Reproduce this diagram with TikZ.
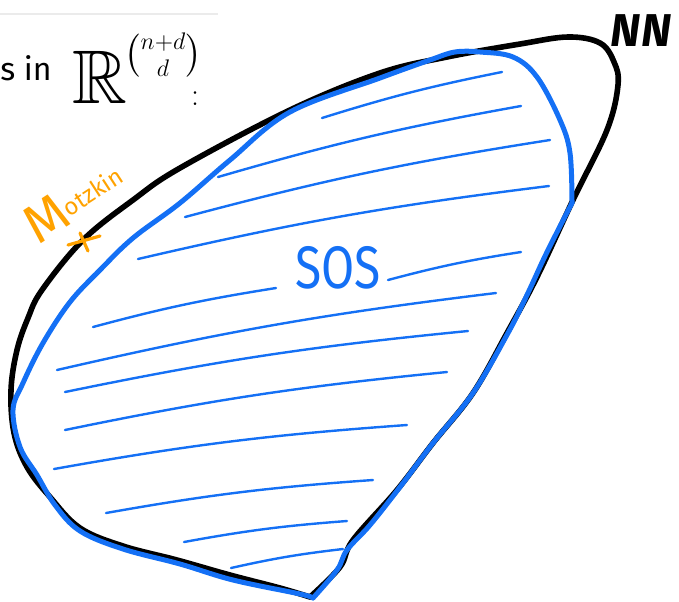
\documentclass[tikz,border=0pt]{standalone}
\usepackage{amsmath,amssymb}
\usepackage{fontspec}
\newfontfamily\handfont{Fira Sans}
\definecolor{sosblue}{RGB}{20,112,245}
\definecolor{motzorange}{RGB}{255,162,0}
\begin{document}
\begin{tikzpicture}[x=0.5pt,y=-0.5pt,
		nnline/.style={black,line width=2.8pt,line cap=round,line join=round},
		sosline/.style={sosblue,line width=2.5pt,line cap=round,line join=round},
		hatch/.style={sosblue,line width=1.2pt,line cap=round}]
			\useasboundingbox (0,0) rectangle (679,601);
			\draw[black!8,line width=1pt] (0,14)--(218,14); %top edge
			\node[anchor=base west,inner sep=0pt,font=\handfont\fontsize{16}{16}\selectfont] (intext) at (0,80) {s in};
			\node[anchor=base west,inner sep=0pt,font=\fontsize{38}{38}\selectfont] (realR) at (72,103) {$\mathbb{R}$};
			\node[inner sep=0pt,font=\fontsize{18}{18}\selectfont] (dimbinom) at (163,55) {$\binom{n+d}{d}$};
			\node[inner sep=0pt,font=\fontsize{16}{16}\selectfont] (colon) at (195,99) {:};
			%NN
			\draw[nnline] plot[smooth, tension=0.6] coordinates {(310,597) (280,588) (230,575) (177,560) (123,546) (80,528) (50,497) (27,467) (14,433) (11,390) (17,350) (28,318) (42,290) (83,240) (133,200) (180,168) (290,110) (380,73) (447,57) (520,44) (568,37) (600,43) (614,62) (618,85) (607,130) (573,200) (537,277) (507,333) (473,393) (433,443) (397,490) (353,540) (340,567) (310,597)};
			\node[font=\handfont\bfseries\itshape\fontsize{23}{23}\selectfont] (nnlabel) at (641,31) {NN};
			%SOS
			\draw[sosline] plot[smooth, tension=0.6] coordinates {(313,598) (300,594) (233,580) (180,564) (123,549) (80,531) (55,505) (37,475) (20,447) (13,410) (23,383) (43,343) (70,302) (100,270) (133,238) (180,203) (230,160) (290,112) (380,78) (430,60) (455,52) (480,52) (513,57) (537,77) (560,120) (570,153) (572,203)};
			\draw[sosline] plot[smooth, tension=0.6] coordinates {(572,203) (547,252) (527,295) (508,333) (473,393) (433,443) (400,487) (370,525) (347,550) (337,570) (313,598)};
			\foreach \xa/\ya/\xb/\yb in {322/118/502/72, 218/177/521/106, 185/217/550/140, 138/259/549/186, 93/327/276/288, 388/280/521/252, 57/370/496/293, 65/392/468/331, 65/430/447/372, 54/469/407/425, 106/513/373/480, 184/542/347/521, 231/568/343/549}
				{\draw[hatch] (\xa,\ya) to[bend left=3] (\xb,\yb);}
			\node[sosblue,font=\handfont\fontsize{30}{30}\selectfont] (soslabel) at (338,268) {\scalebox{0.8}[1]{SOS}};
			%Motzkin
			\coordinate (motzpt) at (84,242);
			\draw[motzorange,line width=1.6pt,line cap=round] (motzpt) ++(-16,3) -- ++(32,-9) (motzpt) ++(-4,-9) -- ++(8,18);
			\node[motzorange,rotate=33,anchor=base west,inner sep=0pt,font=\handfont\fontsize{12}{12}\selectfont] (motzlabel) at (38,246) {{\fontsize{27}{27}\selectfont M}\raisebox{3.5pt}{otzkin}};
	\end{tikzpicture}
\end{document}
